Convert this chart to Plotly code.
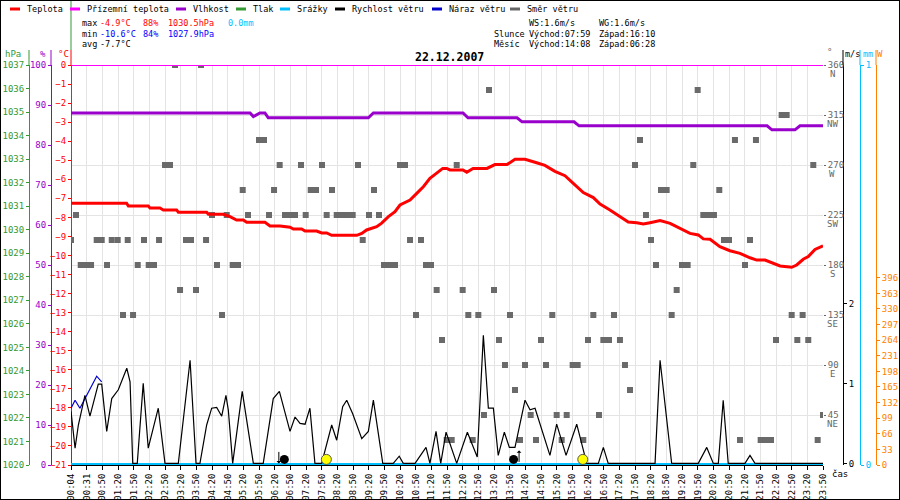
import plotly.graph_objects as go

W, H = 900, 500
FONT = "DejaVu Sans Mono"

# popisky casove osy (kazdy slot = jeden popisek)
time_labels = ["00:04", "00:31", "00:50", "01:20", "01:50", "02:20", "02:50", "03:20", "03:50",
               "04:20", "04:50", "05:20", "05:50", "06:20", "06:50", "07:20", "07:50", "08:20",
               "08:50", "09:20", "09:50", "10:20", "10:50", "11:20", "11:50", "12:20", "12:50",
               "13:20", "13:50", "14:20", "14:50", "15:20", "15:50", "16:20", "16:50", "17:20",
               "17:50", "18:20", "18:50", "19:20", "19:50", "20:20", "20:50", "21:20", "21:50",
               "22:20", "22:50", "23:20", "23:50"]

# teplota [°C]
temp_x = [0, 3.55, 3.66, 4.94, 5.04, 5.68, 5.89, 6.74, 6.85, 8.66, 8.77, 9.72, 10.15, 10.57,
          11.0, 11.21, 12.38, 12.70, 13.34, 13.98, 14.19, 14.72, 14.94, 15.68, 16.0, 16.32,
          16.64, 18.24, 18.56, 18.87, 19.51, 19.83, 20.26, 20.68, 21.0, 21.64, 22.07, 22.49,
          22.91, 23.34, 23.73, 23.98, 24.19, 25.02, 25.26, 25.66, 26.55, 27.06, 27.83, 28.34,
          28.98, 29.72, 30.25, 30.89, 31.53, 32.06, 32.70, 33.34, 33.77, 34.40, 35.04, 35.57,
          36.11, 36.53, 36.96, 37.60, 38.24, 38.87, 39.51, 40.04, 40.36, 40.79, 41.42, 42.06,
          42.70, 43.34, 43.77, 44.30, 44.83, 45.26, 46.0, 46.32, 46.74, 47.06, 47.49, 48.0]
temp_c = [-7.26, -7.26, -7.40, -7.40, -7.51, -7.51, -7.61, -7.61, -7.73, -7.73, -7.84, -7.84,
          -7.96, -8.14, -8.14, -8.26, -8.26, -8.45, -8.45, -8.52, -8.61, -8.61, -8.72, -8.72,
          -8.82, -8.82, -8.94, -8.94, -8.84, -8.66, -8.49, -8.30, -7.96, -7.70, -7.35, -7.09,
          -6.74, -6.39, -5.95, -5.69, -5.43, -5.43, -5.51, -5.51, -5.63, -5.43, -5.43, -5.23,
          -5.23, -4.95, -4.95, -5.13, -5.27, -5.58, -5.81, -6.21, -6.70, -6.96, -7.30, -7.61,
          -7.96, -8.24, -8.28, -8.35, -8.28, -8.17, -8.31, -8.57, -8.84, -8.92, -9.13, -9.15,
          -9.54, -9.75, -9.89, -10.12, -10.24, -10.24, -10.41, -10.55, -10.62, -10.50, -10.20,
          -10.06, -9.68, -9.49]

# prizemni teplota [°C]
ground_x = [0, 48]
ground_c = [0.0, 0.0]

# vlhkost [%]
hum_x = [0, 11.43, 11.64, 12.06, 12.38, 12.59, 18.98, 19.30, 25.02, 25.34, 28.47, 28.79,
         32.11, 32.43, 44.43, 44.74, 46.21, 46.53, 48.0]
hum_pct = [88, 88, 87.1, 88, 88, 86.8, 86.8, 88, 88, 86.8, 86.8, 85.8, 85.8, 84.8, 84.8,
           83.8, 83.8, 84.8, 84.8]

# tlak [hPa] - jen svisla cara na zacatku
press_x = [0, 0]
press_hpa = [1030.0, 1037.0]

# srazky [mm]
rain_x = [0, 48]
rain_mm = [0.0, 0.0]

# slunecni zareni [W] - bez hodnot
rad_x = []
rad_w = []

# rychlost vetru [m/s]
wind_x = [0, 0.26, 0.47, 0.89, 1.21, 1.53, 1.74, 1.96, 2.28, 2.60, 3.02, 3.56, 3.77, 3.94,
          4.23, 4.61, 4.93, 5.57, 6.00, 6.85, 7.60, 7.98, 8.23, 8.66, 8.98, 9.30, 9.62, 9.89,
          10.04, 10.32, 10.93, 11.64, 12.27, 12.91, 13.30, 13.98, 14.30, 14.62, 14.94, 15.25,
          15.57, 16.00, 16.64, 16.96, 17.34, 17.60, 17.98, 18.56, 18.98, 19.30, 19.90, 20.57,
          20.95, 21.21, 21.96, 22.66, 22.91, 23.30, 23.60, 23.94, 24.62, 25.30, 25.93, 26.32,
          26.64, 26.96, 27.27, 27.66, 27.98, 28.34, 28.98, 29.30, 29.62, 30.57, 31.00, 31.60,
          32.28, 32.92, 33.66, 33.98, 34.29, 37.28, 37.60, 38.34, 40.04, 40.58, 41.00, 41.32,
          41.63, 41.95, 43.02, 43.34, 43.66, 48.0]
wind_ms = [0.65, 0.19, 0.48, 0.85, 0.59, 0.85, 0.99, 0.99, 0.40, 0.81, 0.92, 1.19, 1.02, 0,
           0, 1.0, 0.19, 0.69, 0, 0, 1.29, 0, 0, 0.48, 0.69, 0.70, 0.59, 0.85, 0.67, 0, 0.90,
           0, 0, 0.81, 0.90, 0.40, 0.58, 0.50, 0.49, 0.69, 0, 0, 0.48, 0.29, 0.71, 0.79, 0.62,
           0.31, 0.40, 0.79, 0, 0, 0.09, 0, 0, 0.20, 0, 0.40, 0, 0.39, 0, 0.39, 0.08, 1.60,
           0.69, 0.69, 0.10, 0.39, 0.20, 0.20, 0.79, 0.67, 0.69, 0.10, 0.49, 0.10, 0.49, 0, 0,
           0.20, 0, 0, 1.29, 0, 0, 0.20, 0, 0, 0.79, 0, 0, 0.10, 0, 0]

# naraz vetru [m/s]
gust_x = [0, 0.26, 0.57, 1.64, 1.96]
gust_ms = [0.69, 0.79, 0.69, 1.09, 1.02]

# smer vetru [°]
dir_x = [0.00, 0.32, 0.62, 0.96, 1.28, 1.64, 1.96, 2.30, 2.60, 2.98, 3.32, 3.62, 3.96, 4.26,
         4.66, 4.96, 5.30, 5.62, 6.00, 6.32, 6.64, 6.96, 7.34, 7.66, 7.98, 8.30, 8.62, 9.00,
         9.32, 9.64, 9.94, 10.32, 10.66, 10.96, 11.30, 12.00, 12.32, 12.64, 12.96, 13.32,
         13.66, 13.98, 14.30, 14.68, 14.98, 15.30, 15.64, 16.02, 16.32, 16.66, 16.96, 17.30,
         17.64, 17.98, 18.32, 18.62, 19.02, 19.34, 19.66, 19.98, 20.32, 20.68, 21.00, 21.32,
         21.64, 22.02, 22.34, 22.66, 22.98, 23.34, 23.68, 23.98, 24.30, 24.62, 25.00, 25.36,
         25.64, 26.00, 26.36, 26.68, 27.00, 27.32, 27.70, 28.02, 28.34, 28.66, 28.98, 29.34,
         29.68, 30.00, 30.32, 30.72, 31.00, 31.32, 31.64, 32.02, 32.34, 32.70, 33.00, 33.34,
         33.70, 33.98, 34.34, 34.66, 35.04, 35.36, 35.68, 36.00, 36.32, 36.70, 37.02, 37.34,
         37.66, 38.02, 38.34, 38.66, 39.00, 39.36, 39.72, 40.00, 40.36, 40.68, 41.04, 41.38,
         41.68, 42.00, 42.38, 42.70, 43.02, 43.34, 43.72, 44.02, 44.34, 44.68, 45.00, 45.36,
         45.68, 46.00, 46.36, 46.70, 47.06, 47.38, 47.66, 48.0]
dir_deg = [202.5, 225, 180, 180, 180, 202.5, 202.5, 180, 202.5, 202.5, 135, 202.5, 135, 180,
           202.5, 180, 180, 202.5, 270, 270, 360, 157.5, 202.5, 202.5, 157.5, 360, 202.5, 225,
           180, 135, 225, 180, 180, 247.5, 225, 292.5, 292.5, 225, 247.5, 270,
           225, 225, 225, 270, 225, 247.5, 247.5, 270, 225, 247.5, 225, 225,
           225, 225, 270, 202.5, 225, 247.5, 225, 180, 180, 180, 270, 270,
           202.5, 135, 202.5, 180, 180, 157.5, 112.5, 22.5, 22.5, 270, 157.5, 135,
           22.5, 135, 45, 337.5, 157.5, 112.5, 90, 135, 67.5, 22.5, 90, 45,
           22.5, 112.5, 90, 135, 45, 22.5, 45, 90, 90, 22.5, 112.5, 135,
           45, 112.5, 112.5, 135, 112.5, 90, 67.5, 270, 292.5, 225, 202.5, 180,
           247.5, 247.5, 135, 157.5, 180, 180, 270, 337.5, 225, 225, 225, 247.5,
           202.5, 202.5, 292.5, 22.5, 180, 202.5, 292.5, 22.5, 22.5, 22.5, 112.5, 315,
           315, 135, 112.5, 135, 112.5, 270, 22.5, 45]

dir_ticks = [45, 90, 135, 180, 225, 270, 315, 360]
dir_names = ["NE", "E", "SE", "S", "SW", "W", "NW", "N"]
rad_ticks = [0, 33, 66, 99, 132, 165, 198, 231, 264, 297, 330, 363, 396]

# slunce a mesic
moon_set, sun_rise, moon_rise, sun_set = "06:28", "07:59", "14:08", "16:10"


def slot(hhmm):
    h, m = map(int, hhmm.split(":"))
    return 2 + (h * 60 + m - 50) / 30


def px(x):
    return x / W


def py(y):
    return 1 - y / H


RED, MAG, PUR, GRN = "#ff0000", "#ff00ff", "#9900cc", "#339933"
CYAN, BLUE, GRAY, ORANGE = "#00bfff", "#0000cc", "#666666", "#ff8000"

fig = go.Figure()
fig.add_trace(go.Scatter(x=dir_x, y=dir_deg, mode="markers", yaxis="y",
                         marker=dict(symbol="square", size=6, color="#6a6a6a")))
fig.add_trace(go.Scatter(x=press_x, y=press_hpa, mode="lines", yaxis="y2",
                         line=dict(color=GRN, width=1)))
fig.add_trace(go.Scatter(x=hum_x, y=hum_pct, mode="lines", yaxis="y3",
                         line=dict(color=PUR, width=3)))
fig.add_trace(go.Scatter(x=ground_x, y=ground_c, mode="lines", yaxis="y4",
                         line=dict(color=MAG, width=2)))
fig.add_trace(go.Scatter(x=temp_x, y=temp_c, mode="lines", yaxis="y4",
                         line=dict(color=RED, width=3)))
fig.add_trace(go.Scatter(x=rain_x, y=rain_mm, mode="lines", yaxis="y5",
                         line=dict(color=CYAN, width=4)))
fig.add_trace(go.Scatter(x=gust_x, y=gust_ms, mode="lines", yaxis="y6",
                         line=dict(color=BLUE, width=1.2)))
fig.add_trace(go.Scatter(x=wind_x, y=wind_ms, mode="lines", yaxis="y6",
                         line=dict(color="black", width=1.2)))
fig.add_trace(go.Scatter(x=[slot(moon_set) + 0.35, slot(moon_rise) - 0.35], y=[0.05, 0.05],
                         mode="markers", yaxis="y6", cliponaxis=False,
                         marker=dict(size=9, color="black")))
fig.add_trace(go.Scatter(x=[slot(sun_rise), slot(sun_set)], y=[0.05, 0.05],
                         mode="markers", yaxis="y6", cliponaxis=False,
                         marker=dict(size=10, color="#ffff00", line=dict(color="#555555", width=1))))
fig.add_trace(go.Scatter(x=rad_x, y=rad_w, mode="lines", yaxis="y7",
                         line=dict(color=ORANGE, width=1)))

tf = dict(family=FONT, size=9)


def side_axis(color, rng, pos, side, **kw):
    d = dict(overlaying="y", anchor="free", position=pos, side=side, range=rng,
             showgrid=False, zeroline=False, showline=True, linecolor=color, linewidth=1,
             ticks="outside", ticklen=3, tickcolor=color, tickfont=dict(tf, color=color),
             automargin=False)
    d.update(kw)
    return d


fig.update_layout(
    width=W, height=H, margin=dict(l=0, r=0, t=0, b=0, pad=0), autosize=False,
    paper_bgcolor="white", plot_bgcolor="white", showlegend=False,
    font=dict(family=FONT, size=9, color="black"),
    xaxis=dict(domain=[px(71), px(823)], range=[0, 48], tickmode="array",
               tickvals=list(range(len(time_labels))), ticktext=time_labels, tickangle=-90,
               tickfont=tf, ticks="outside", ticklen=4, tickcolor="black",
               showgrid=True, gridcolor="#e4e4e4", zeroline=False, automargin=False,
               showline=True, linecolor="black", layer="below traces"),
    yaxis=dict(domain=[py(465), py(65)], range=[0, 360], side="right", anchor="x",
               tickmode="array", tickvals=dir_ticks, ticktext=[str(v) for v in dir_ticks],
               tickfont=dict(tf, color=GRAY), ticks="outside", ticklen=2, tickcolor=GRAY,
               showgrid=True, gridcolor="#e4e4e4", zeroline=False, showline=False,
               automargin=False),
    yaxis2=side_axis(GRN, [1020, 1037], px(29), "left", dtick=1),
    yaxis3=side_axis(PUR, [0, 100], px(51), "left", dtick=10),
    yaxis4=side_axis(RED, [-21, 0], px(71), "left", dtick=1, layer="below traces"),
    yaxis5=side_axis(CYAN, [0, 1], px(860), "right", tickvals=[0, 1]),
    yaxis6=side_axis("black", [-0.02, 4.98], px(843), "right", tickvals=[0, 1, 2]),
    yaxis7=side_axis(ORANGE, [0, 846], px(876), "right", tickvals=rad_ticks),
)

shapes = []
# prodlouzeni os nad graf
for xx, col in [(29, GRN), (51, PUR), (71, RED), (843, "black"), (860, CYAN), (876, ORANGE)]:
    shapes.append(dict(type="line", xref="paper", yref="paper", x0=px(xx), x1=px(xx),
                       y0=py(50), y1=py(65), line=dict(color=col, width=1)))
shapes.append(dict(type="line", xref="paper", yref="paper", x0=px(71), x1=px(71),
                   y0=py(0), y1=py(50), line=dict(color=GRN, width=1)))
# ramecek
shapes.append(dict(type="rect", xref="paper", yref="paper", x0=0, x1=1, y0=0, y1=1,
                   line=dict(color="black", width=2)))

annotations = []


def txt(x, y, s, color="black", size=8.5, xanchor="left", bold=False, yref="paper", yshift=0):
    annotations.append(dict(x=px(x), y=py(y) if yref == "paper" else y, xref="paper",
                            yref=yref, text=f"<b>{s}</b>" if bold else s, showarrow=False,
                            xanchor=xanchor, yanchor="middle", yshift=yshift,
                            font=dict(family=FONT, size=size, color=color)))


# legenda
legend_items = [("Teplota", RED, 25), ("Přízemní teplota", MAG, 85), ("Vlhkost", PUR, 191),
                ("Tlak", GRN, 251), ("Srážky", CYAN, 295), ("Rychlost větru", "black", 350),
                ("Náraz větru", BLUE, 447), ("Směr větru", GRAY, 525)]
for name, col, tx in legend_items:
    shapes.append(dict(type="line", xref="paper", yref="paper", x0=px(tx - 15), x1=px(tx - 5),
                       y0=py(9), y1=py(9), line=dict(color=col, width=3)))
    txt(tx, 9, name)

# souhrnne hodnoty
txt(80, 23, "max")
txt(98, 23, "-4.9°C", RED)
txt(141, 23, "88%", RED)
txt(166, 23, "1030.5hPa", RED)
txt(226, 23, "0.0mm", CYAN)
txt(80, 34, "min")
txt(98, 34, "-10.6°C", "#0000ff")
txt(141, 34, "84%", "#0000ff")
txt(166, 34, "1027.9hPa", "#0000ff")
txt(80, 44, "avg")
txt(98, 44, "-7.7°C")
txt(527, 23, "WS:1.6m/s")
txt(597, 23, "WG:1.6m/s")
txt(492, 34, "Slunce")
txt(527, 34, "Východ:" + sun_rise)
txt(597, 34, "Západ:" + sun_set)
txt(492, 44, "Měsíc")
txt(527, 44, "Východ:" + moon_rise)
txt(597, 44, "Západ:" + moon_set)
txt(449, 57, "22.12.2007", size=11.5, xanchor="center", bold=True)

# nazvy os
txt(13, 54, "hPa", GRN, 9, "center")
txt(43, 54, "%", PUR, 9, "center")
txt(63, 54, "°C", RED, 9, "center")
txt(829, 52, "°", GRAY, 9, "center")
txt(852, 54, "m/s", "black", 8.5, "center")
txt(868, 54, "mm", CYAN, 8.5, "center")
txt(880, 54, "W", ORANGE, 9, "center")
txt(840, 474, "čas", "black", 9, "center")

# svetove strany pod hodnotami smeru
for deg, name in zip(dir_ticks, dir_names):
    txt(832, deg, name, GRAY, 9, "center", yref="y", yshift=-9)

# sipky zapadu / vychodu mesice
annotations.append(dict(x=slot(moon_set), y=0, xref="x", yref="y6", showarrow=True,
                        ax=0, ay=-13, arrowhead=1, arrowsize=0.8, arrowwidth=1,
                        arrowcolor="black", text=""))
annotations.append(dict(x=slot(moon_rise), y=0, xref="x", yref="y6", showarrow=True,
                        ax=0, ay=13, yshift=13, arrowhead=1, arrowsize=0.8, arrowwidth=1,
                        arrowcolor="black", text=""))

fig.update_layout(shapes=shapes, annotations=annotations)
fig.write_html("out.html", config={"displayModeBar": False},
               post_script="document.body.style.margin='0';document.body.style.overflow='hidden';")
